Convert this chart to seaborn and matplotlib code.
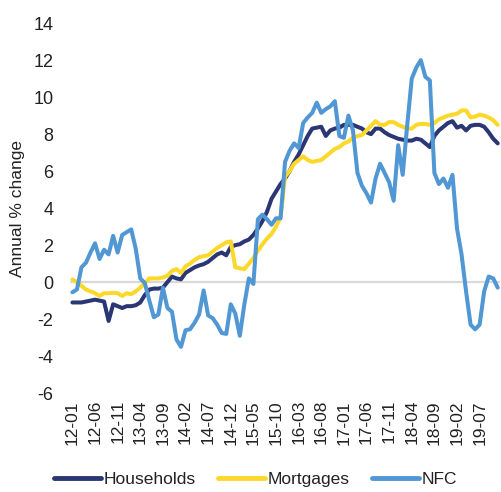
import numpy as np
import pandas as pd
import matplotlib
matplotlib.use("Agg")
import matplotlib.pyplot as plt
import seaborn as sns

# months 2012-01 .. 2019-11
months = [f"{y % 100:02d}-{m:02d}" for y in range(2012, 2020) for m in range(1, 13)][:95]

households = [
    -1.1, -1.1, -1.1, -1.05, -1.0, -0.95, -1.0, -1.05, -2.1, -1.2,
    -1.3, -1.4, -1.3, -1.3, -1.25, -1.1, -0.7, -0.4, -0.35, -0.35,
    -0.3, 0.0, 0.3, 0.2, 0.15, 0.5, 0.65, 0.8, 0.9, 0.97,
    1.1, 1.3, 1.5, 1.6, 1.45, 1.9, 2.0, 2.05, 2.2, 2.3,
    2.55, 2.9, 3.3, 3.8, 4.5, 4.9, 5.3, 5.6, 6.0, 6.5,
    6.9, 7.4, 7.9, 8.3, 8.35, 8.4, 7.9, 8.2, 8.3, 8.35,
    8.5, 8.5, 8.5, 8.4, 8.3, 8.1, 8.0, 8.3, 8.3, 8.1,
    7.95, 7.85, 7.75, 7.7, 7.65, 7.65, 7.75, 7.7, 7.5, 7.3,
    7.9, 8.2, 8.4, 8.6, 8.7, 8.35, 8.45, 8.2, 8.45, 8.5,
    8.5, 8.4, 8.1, 7.75, 7.5,
]

mortgages = [
    0.15, 0.0, -0.2, -0.4, -0.5, -0.6, -0.75, -0.6, -0.6, -0.58,
    -0.6, -0.75, -0.6, -0.65, -0.5, -0.3, -0.05, 0.2, 0.2, 0.2,
    0.25, 0.35, 0.6, 0.7, 0.5, 0.85, 1.0, 1.2, 1.35, 1.4,
    1.45, 1.65, 1.85, 2.0, 2.15, 2.2, 0.8, 0.75, 0.7, 1.0,
    1.3, 1.7, 2.05, 2.35, 2.6, 3.0, 3.5, 5.7, 6.0, 6.4,
    6.6, 6.8, 6.6, 6.5, 6.55, 6.6, 6.8, 7.0, 7.2, 7.3,
    7.5, 7.6, 7.8, 7.9, 7.95, 8.2, 8.45, 8.7, 8.5, 8.5,
    8.65, 8.65, 8.5, 8.4, 8.3, 8.3, 8.5, 8.55, 8.55, 8.5,
    8.6, 8.8, 8.9, 9.0, 9.05, 9.1, 9.28, 9.28, 8.9, 8.95,
    9.05, 9.0, 8.9, 8.75, 8.5,
]

nfc = [
    -0.55, -0.4, 0.8, 1.05, 1.6, 2.1, 1.25, 1.75, 1.5, 2.5,
    1.6, 2.55, 2.7, 2.85, 1.8, 0.2, -0.05, -1.0, -1.9, -1.75,
    -0.3, -1.4, -1.6, -3.1, -3.5, -2.6, -2.55, -2.2, -1.75, -0.45,
    -1.8, -1.95, -2.3, -2.75, -2.8, -1.2, -1.7, -2.9, -1.2, 0.2,
    -0.1, 3.4, 3.65, 3.4, 3.1, 3.45, 3.45, 6.5, 7.1, 7.5,
    7.25, 8.6, 8.9, 9.15, 9.7, 9.15, 9.35, 9.5, 9.78, 7.9,
    7.8, 9.0, 8.2, 5.9, 5.2, 4.8, 4.3, 5.6, 6.4, 5.9,
    5.4, 4.4, 7.4, 5.8, 8.5, 11.0, 11.6, 12.0, 11.1, 10.9,
    5.9, 5.3, 5.6, 5.1, 5.8, 2.9, 1.5, -0.5, -2.3, -2.55,
    -2.3, -0.5, 0.3, 0.2, -0.3,
]

series_names = ["Households", "Mortgages", "NFC"]
colors = ["#2b3674", "#fcd82a", "#5197d3"]

df = pd.concat([
    pd.DataFrame({"idx": range(len(v)), "value": v, "series": name})
    for name, v in zip(series_names, [households, mortgages, nfc])
])

sns.set_theme(style="white")
plt.rcParams["font.family"] = ["Liberation Sans", "DejaVu Sans"]
plt.rcParams["axes.unicode_minus"] = False

fig = plt.figure(figsize=(5.01, 4.92), dpi=100)
ax = fig.add_axes([0.14, 0.201, 0.858, 0.752])

ax.axhline(0, color="#d9d9d9", lw=1.6, zorder=0)
sns.lineplot(data=df, x="idx", y="value", hue="series", palette=colors,
             linewidth=2.9, ax=ax, legend=False)

ax.set_xlim(-0.5, len(months) - 0.5)
ax.set_ylim(-6, 14)
ax.set_yticks(range(-6, 15, 2))
ax.set_xticks(range(0, len(months), 5))
ax.set_xticklabels(months[::5], rotation=90)
ax.tick_params(axis="y", length=0, labelsize=13, labelcolor="#222222", pad=12)
ax.tick_params(axis="x", length=0, labelsize=12.5, labelcolor="#222222", pad=5)
ax.set_xlabel("")
ax.set_ylabel("Annual % change", fontsize=12.5, color="#222222", labelpad=6)
for s in ax.spines.values():
    s.set_visible(False)

handles = [plt.Line2D([], [], color=c, lw=3.5) for c in colors]
fig.legend(handles, series_names, loc="center", bbox_to_anchor=(0.51, 0.025),
           ncol=3, frameon=False, fontsize=12.5, handlelength=2.7,
           handletextpad=0.15, columnspacing=1.3, labelcolor="#222222")

fig.savefig("out.png", dpi=100)
